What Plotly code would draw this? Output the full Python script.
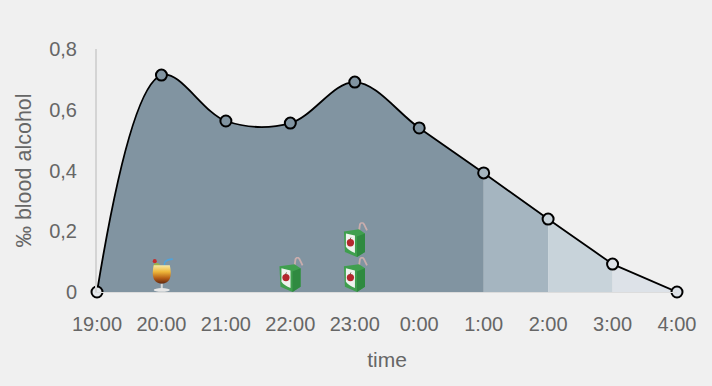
import base64
import plotly.graph_objects as go

hours = [19, 20, 21, 22, 23, 24, 25, 26, 27, 28]
tick_labels = ["19:00", "20:00", "21:00", "22:00", "23:00", "0:00", "1:00", "2:00", "3:00", "4:00"]
bac = [0.0, 0.714, 0.563, 0.556, 0.691, 0.54, 0.392, 0.24, 0.092, 0.0]
marker_colors = ["#e4e8ec", "#8194a1", "#8194a1", "#8194a1", "#8194a1", "#8194a1", "#a5b5c0", "#c8d3da", "#dde2e8", "#dde2e8"]
y_ticks = [0, 0.2, 0.4, 0.6, 0.8]
y_tick_labels = ["0", "0,2", "0,4", "0,6", "0,8"]
band_starts = [25, 26, 27]
band_colors = ["#a5b5c0", "#c8d3da", "#dde2e8"]
dark_color = "#8194a1"
drinks = [("cocktail", 20, 0), ("juice", 22, 0), ("juice", 23, 0), ("juice", 23, 1)]

JUICE = """<svg xmlns='http://www.w3.org/2000/svg' viewBox='0 0 34 34'>
<path d='M17 9 L18 2 Q20 -1 22 2 L25 8' fill='none' stroke='#c9adad' stroke-width='1.8'/>
<path d='M2 9 L17 7 L23 11 L23 29 L15 34 L3 29 Z' fill='#3f9f4e'/>
<path d='M15 14 L23 11 L23 29 L15 34 Z' fill='#2f8a40'/>
<path d='M4 11 L13 13 L13 30 Q7 28 4 24 Z' fill='#eef3ee'/>
<circle cx='8.5' cy='20' r='3.6' fill='#b3272d'/>
<path d='M8 17 L9 15' stroke='#5a3a20' stroke-width='0.8'/>
</svg>"""
COCKTAIL = """<svg xmlns='http://www.w3.org/2000/svg' viewBox='0 0 34 34'>
<path d='M19 12 L20 5 Q23 2 28 2' fill='none' stroke='#4fa3dc' stroke-width='1.6'/>
<circle cx='10' cy='4' r='2' fill='#c42c2c'/>
<circle cx='12' cy='9' r='3.2' fill='#9bb24a'/>
<defs><linearGradient id='g' x1='0' y1='0' x2='0' y2='1'><stop offset='0' stop-color='#f4e9a8'/><stop offset='0.35' stop-color='#eeb73a'/><stop offset='0.7' stop-color='#b55d16'/><stop offset='1' stop-color='#5d2710'/></linearGradient></defs>
<path d='M9 8 L25 8 Q29 25 17 26 Q5 25 9 8 Z' fill='url(#g)'/>
<rect x='16' y='26' width='2' height='5' fill='#d9d9d9'/>
<ellipse cx='17' cy='32' rx='8' ry='1.8' fill='#e6e6e6'/>
</svg>"""
ICONS = {"juice": JUICE, "cocktail": COCKTAIL}
ICON_OFFSET = {"juice": 0.2, "cocktail": 0.26}


def uri(svg):
    return "data:image/svg+xml;base64," + base64.b64encode(svg.encode()).decode()


fig = go.Figure()
# light bands under the falling part of the curve
for i, start in enumerate(band_starts):
    j = hours.index(start)
    fig.add_trace(go.Scatter(x=hours[j:j + 2], y=bac[j:j + 2], mode="lines", line=dict(width=0, color=band_colors[i]),
                             fill="tozeroy", fillcolor=band_colors[i], hoverinfo="skip", showlegend=False))
# dark area
k = hours.index(25) + 1
fig.add_trace(go.Scatter(x=hours[:k], y=bac[:k], mode="lines", line=dict(width=0, shape="spline", smoothing=1.0, color=dark_color),
                         fill="tozeroy", fillcolor=dark_color, hoverinfo="skip", showlegend=False))
# curve: smooth up to 3:00, straight tail to 4:00
t = hours.index(27)
fig.add_trace(go.Scatter(x=hours[:t + 1], y=bac[:t + 1], mode="lines", cliponaxis=False,
                         line=dict(color="#000000", width=1.8, shape="spline", smoothing=1.0),
                         showlegend=False, hoverinfo="skip"))
fig.add_trace(go.Scatter(x=hours[t:], y=bac[t:], mode="lines", cliponaxis=False,
                         line=dict(color="#000000", width=1.8), showlegend=False, hoverinfo="skip"))
fig.add_trace(go.Scatter(x=hours, y=bac, mode="markers", cliponaxis=False,
                         marker=dict(size=11, color=marker_colors, line=dict(color="#000000", width=2)),
                         showlegend=False))

images = []
for kind, hour, level in drinks:
    images.append(dict(source=uri(ICONS[kind]), xref="x", yref="y", x=hour - ICON_OFFSET[kind], y=0.115 * (level + 1),
                       sizex=0.53, sizey=0.115, sizing="stretch", xanchor="left", yanchor="top", layer="above"))

fig.update_layout(
    width=712, height=386, autosize=False,
    margin=dict(l=97, r=35, t=49, b=94),
    paper_bgcolor="#f0f0f0", plot_bgcolor="#f0f0f0",
    font=dict(family="Liberation Sans, Arial, sans-serif", size=20, color="#666666"),
    images=images,
    xaxis=dict(range=[19, 28], tickvals=hours, ticktext=tick_labels, showgrid=False, zeroline=False,
               showline=True, linecolor="#dcdcdc", linewidth=1, ticks="outside", ticklen=14, tickcolor="rgba(0,0,0,0)",
               title=dict(text="time", font=dict(size=21, color="#666666"), standoff=18)),
    yaxis=dict(range=[0, 0.8], tickvals=y_ticks, ticktext=y_tick_labels, showgrid=False, zeroline=False,
               showline=True, linecolor="#d4d4d4", linewidth=2, ticks="outside", ticklen=14, tickcolor="rgba(0,0,0,0)",
               title=dict(text="‰ blood alcohol", font=dict(size=21.5, color="#666666"), standoff=12)),
)
fig.write_html("out.html", config=dict(displayModeBar=False),
               post_script="document.body.style.margin='0';document.body.style.background='#f0f0f0';document.body.style.overflow='hidden';")
